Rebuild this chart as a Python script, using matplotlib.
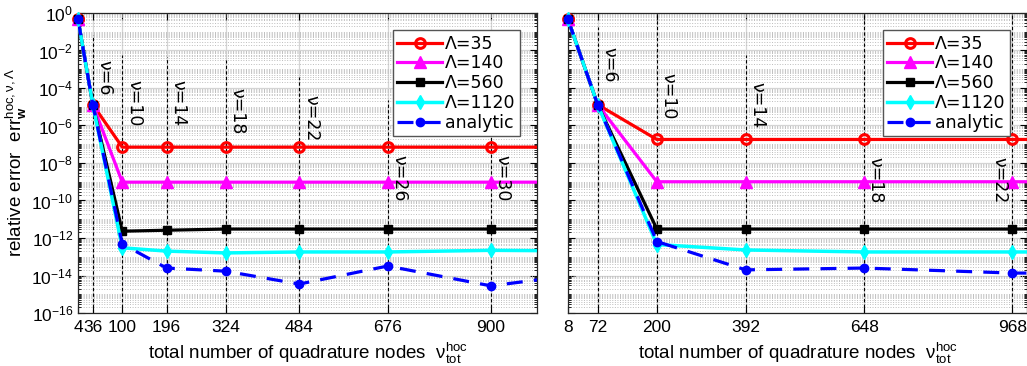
import matplotlib
matplotlib.use("Agg")
from matplotlib import pyplot as plt
from matplotlib.ticker import FixedLocator, NullFormatter
import numpy as np

# left panel: nodes = nu^2
left_x = [4, 36, 100, 196, 324, 484, 676, 900, 1156]
left_lam35 = [0.45, 1.3e-5, 7e-8, 7e-8, 7e-8, 7e-8, 7e-8, 7e-8, 7e-8]
left_lam140 = [0.45, 1.3e-5, 9.5e-10, 9.5e-10, 9.5e-10, 9.5e-10, 9.5e-10, 9.5e-10, 9.5e-10]
left_lam560 = [0.45, 1.3e-5, 2.3e-12, 2.6e-12, 3e-12, 3e-12, 3e-12, 3e-12, 3e-12]
left_lam1120 = [0.45, 1.3e-5, 3e-13, 2e-13, 1.6e-13, 1.8e-13, 1.8e-13, 2.2e-13, 2e-13]
left_analytic = [0.45, 1.3e-5, 4.8e-13, 2.5e-14, 1.7e-14, 3.5e-15, 3.2e-14, 2.8e-15, 1.8e-14]
left_ticks = [4, 36, 100, 196, 324, 484, 676, 900]
left_nu = [6, 10, 14, 18, 22, 26, 30]
left_nu_x = [36, 100, 196, 324, 484, 676, 900]
left_line_top = [10**-1.17, 10**-2.24, 10**-2.35, 10**-2.5, 10**-3.4, 10**-4.64, 10**-6.35]
left_text_top = [10**-2.5, 10**-3.55, 10**-3.55, 10**-4.0, 10**-4.37, 10**-7.57, 10**-7.57]

# right panel: nodes = 2 nu^2
right_x = [8, 72, 200, 392, 648, 968, 1352]
right_lam35 = [0.45, 1.3e-5, 1.8e-7, 1.8e-7, 1.8e-7, 1.8e-7, 1.8e-7]
right_lam140 = [0.45, 1.3e-5, 1e-9, 1e-9, 1e-9, 1e-9, 1e-9]
right_lam560 = [0.45, 1.3e-5, 3e-12, 3e-12, 3e-12, 3e-12, 3e-12]
right_lam1120 = [0.45, 1.3e-5, 4.5e-13, 2.3e-13, 1.8e-13, 1.8e-13, 1.8e-13]
right_analytic = [0.45, 1.3e-5, 6.5e-13, 2e-14, 2.5e-14, 1.35e-14, 1.3e-14]
right_ticks = [8, 72, 200, 392, 648, 968]
right_nu = [6, 10, 14, 18, 22]
right_nu_x = [72, 200, 392, 648, 968]
right_line_top = [10**-0.75, 1.0, 10**-2.24, 1.0, 1.0]
right_text_top = [10**-1.8, 10**-3.2, 10**-3.68, 10**-7.68, 10**-7.68]

labels = ['Λ=35', 'Λ=140', 'Λ=560', 'Λ=1120', 'analytic']

plt.rcParams['font.family'] = 'Liberation Sans'
plt.rcParams['mathtext.fontset'] = 'custom'
plt.rcParams['mathtext.rm'] = 'Liberation Sans'
plt.rcParams['mathtext.it'] = 'Liberation Sans'
plt.rcParams['mathtext.bf'] = 'Liberation Sans:bold'

styles = [
    dict(color='#ff0000', marker='o', mfc='none', mew=2.2, ms=7, lw=2.3),
    dict(color='#ff00ff', marker='^', ms=8, lw=2.3),
    dict(color='#000000', marker='s', ms=6, lw=2.3),
    dict(color='#00ffff', marker='d', ms=7, lw=2.5),
    dict(color='#0000ff', marker='.', ms=12, lw=2.3, ls=(0, (5, 3.5))),
]

fig = plt.figure(figsize=(10.27, 3.66), dpi=100)
ax1 = fig.add_axes([0.0760, 0.1448, 0.4469, 0.8197])
ax2 = fig.add_axes([0.5531, 0.1448, 0.4469, 0.8197])

major = [10.0**k for k in range(-16, 1, 2)]
minor = [m * 10.0**k for k in range(-16, 0) for m in range(1, 10)
         if not (m == 1 and k % 2 == 0)]


def panel(ax, x, series, ticks, xlim, nu, nu_x, line_top, text_top, right_text_last):
    for ys, st, lab in zip(series, styles, labels):
        ax.plot(x, ys, label=lab, zorder=3, **st)
        m = dict(st)
        m['lw'] = 0
        m.pop('ls', None)
        ax.plot(x[:1], ys[:1], clip_on=False, zorder=4, **m)
    ax.set_yscale('log')
    ax.set_xlim(xlim)
    ax.set_ylim(1e-16, 1)
    ax.set_xticks(ticks)
    ax.set_xticklabels([str(t) for t in ticks])
    ax.yaxis.set_major_locator(FixedLocator(major))
    ax.yaxis.set_minor_locator(FixedLocator(minor))
    ax.yaxis.set_minor_formatter(NullFormatter())
    ax.grid(True, which='major', color='#d4d4d4', lw=0.9, ls='-', zorder=0)
    ax.grid(True, which='minor', axis='y', color='#bdbdbd', lw=0.7, ls=':', zorder=0)
    ax.tick_params(which='both', direction='in', top=True, right=True, labelsize=12.5)
    ax.tick_params(which='major', length=5)
    ax.tick_params(which='minor', length=2.5)
    ax.tick_params(axis='x', pad=5)
    for s in ax.spines.values():
        s.set_color('#262626')
        s.set_linewidth(0.9)
    for i, (n, xv, lt, tt) in enumerate(zip(nu, nu_x, line_top, text_top)):
        ax.plot([xv, xv], [1e-16, lt], color='black', lw=0.8, ls=(0, (3, 2)), zorder=2)
        if right_text_last and i == len(nu) - 1:
            ax.annotate('ν=%d' % n, xy=(xv, tt), xytext=(-3, 0), textcoords='offset points',
                        rotation=-90, ha='right', va='top', fontsize=12.5, family='DejaVu Sans')
        else:
            ax.annotate('ν=%d' % n, xy=(xv, tt), xytext=(2, 0), textcoords='offset points',
                        rotation=-90, ha='left', va='top', fontsize=12.5, family='DejaVu Sans')
    ax.set_xlabel('total number of quadrature nodes  $\\mathrm{ν}_{\\mathrm{tot}}^{\\mathrm{hoc}}$',
                  fontsize=13.5, labelpad=4)
    leg = ax.legend(loc='upper right', prop={'family': 'DejaVu Sans', 'size': 12.5},
                    handlelength=2.6, handletextpad=0.15, labelspacing=0.1,
                    borderpad=0.25, borderaxespad=1.0, fancybox=False, framealpha=1)
    leg.get_frame().set_edgecolor('#555555')
    leg.get_frame().set_linewidth(1.0)
    leg.set_zorder(10)


panel(ax1, left_x, [left_lam35, left_lam140, left_lam560, left_lam1120, left_analytic],
      left_ticks, (4, 1000), left_nu, left_nu_x, left_line_top, left_text_top, False)
panel(ax2, right_x, [right_lam35, right_lam140, right_lam560, right_lam1120, right_analytic],
      right_ticks, (8, 1000), right_nu, right_nu_x, right_line_top, right_text_top, True)

ax1.set_yticklabels(['$10^{%d}$' % k for k in range(-16, 1, 2)])
ax2.set_yticklabels([])
ax1.set_ylabel('relative error  err$_{\\mathbf{w}}^{\\mathrm{hoc,ν,Λ}}$', fontsize=13.5, labelpad=2)

fig.savefig('out.png', dpi=100)
